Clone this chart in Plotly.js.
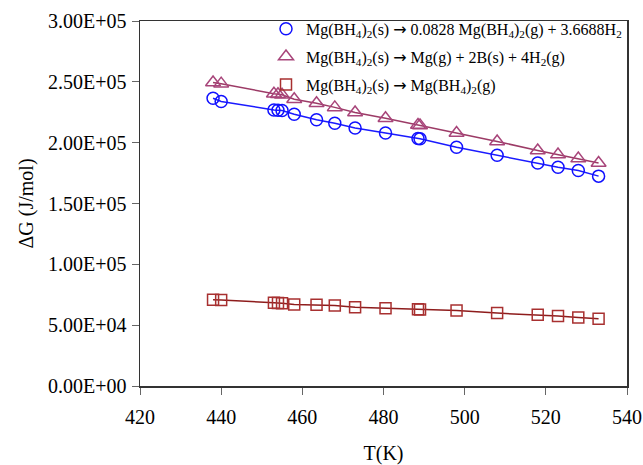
<!DOCTYPE html>
<html><head><meta charset="utf-8">
<script src="https://cdn.plot.ly/plotly-3.0.1.min.js"></script>
<style>body{margin:0;background:#fff}#c{width:643px;height:465px}</style>
</head><body><div id="c"></div>
<script>
const T = [438, 440, 453, 454, 455, 458, 463.5, 468, 473, 480.5, 488.5, 489, 498, 508, 518, 523, 528, 533];
const dG_partial = [236500, 233800, 226900, 226700, 226500, 223400, 218800, 216000, 212000, 207900, 203500, 203200, 196200, 189600, 183300, 179800, 177100, 172500];
const dG_decomp = [249500, 248500, 240200, 239800, 239300, 235700, 232400, 229000, 224800, 220000, 214500, 214200, 207900, 201000, 193500, 190200, 186900, 183300];
const dG_vapor = [70900, 70700, 68400, 68300, 68100, 67000, 66800, 66200, 64800, 64000, 63000, 62900, 62100, 59900, 58600, 57500, 56400, 55300];
const ARROW = '<span style="font-family:DejaVu Sans">→</span>';
const names = [
  'Mg(BH<sub>4</sub>)<sub>2</sub>(s) ' + ARROW + ' 0.0828 Mg(BH<sub>4</sub>)<sub>2</sub>(g) + 3.6688H<sub>2</sub>',
  'Mg(BH<sub>4</sub>)<sub>2</sub>(s) ' + ARROW + ' Mg(g) + 2B(s) + 4H<sub>2</sub>(g)',
  'Mg(BH<sub>4</sub>)<sub>2</sub>(s) ' + ARROW + ' Mg(BH<sub>4</sub>)<sub>2</sub>(g)'
];
const yTickVals = [0, 50000, 100000, 150000, 200000, 250000, 300000];
const yTickText = ['0.00E+00', '5.00E+04', '1.00E+05', '1.50E+05', '2.00E+05', '2.50E+05', '3.00E+05'];
const xTickVals = [420, 440, 460, 480, 500, 520, 540];

const series = [
  {y: dG_partial, name: names[0], sym: 'circle-open', mc: '#1010ff', lc: '#1a1aff', size: 12, g: 'a'},
  {y: dG_decomp, name: names[1], sym: 'triangle-up-open', mc: '#a8457a', lc: '#9c3b66', size: 13, g: 'b'},
  {y: dG_vapor, name: names[2], sym: 'square-open', mc: '#a83030', lc: '#8e1c1c', size: 11, g: 'c'}
];
const traces = [];
series.forEach(s => {
  traces.push({x: T, y: s.y, mode: 'lines', line: {color: s.lc, width: 1.5}, showlegend: false, hoverinfo: 'skip', legendgroup: s.g});
});
series.forEach(s => {
  traces.push({x: T, y: s.y, mode: 'markers', name: s.name, legendgroup: s.g,
    marker: {symbol: s.sym, size: s.size, color: s.mc, line: {color: s.mc, width: 1.5}}});
});
const fam = 'Liberation Serif';
const font = {family: fam, size: 20, color: '#000'};
const layout = {
  width: 643, height: 465,
  margin: {l: 140, r: 16, t: 19, b: 79},
  paper_bgcolor: '#fff', plot_bgcolor: '#fff',
  font: font,
  showlegend: true,
  legend: {x: 1.0, xanchor: 'right', y: 1.025, yanchor: 'top', bgcolor: 'rgba(255,255,255,0)',
    borderwidth: 0, font: {family: fam, size: 16, color: '#000'},
    tracegroupgap: 4, itemwidth: 30},
  xaxis: {range: [420, 540], tickvals: xTickVals, ticks: 'outside', ticklen: 7, tickcolor: '#666',
    ticklabelstandoff: 5,
    showline: true, linecolor: '#333', linewidth: 1.5, mirror: true, showgrid: false, zeroline: false,
    title: {text: 'T(K)', font: font, standoff: 24}, tickfont: font},
  yaxis: {range: [0, 300000], tickvals: yTickVals, ticktext: yTickText, ticks: 'outside', ticklen: 7, tickcolor: '#666',
    ticklabelstandoff: 1,
    showline: true, linecolor: '#333', linewidth: 1.5, mirror: true, showgrid: false, zeroline: false,
    title: {text: 'ΔG (J/mol)', font: font, standoff: 9}, tickfont: font}
};
Plotly.newPlot('c', traces, layout, {displayModeBar: false, staticPlot: true});
</script></body></html>
